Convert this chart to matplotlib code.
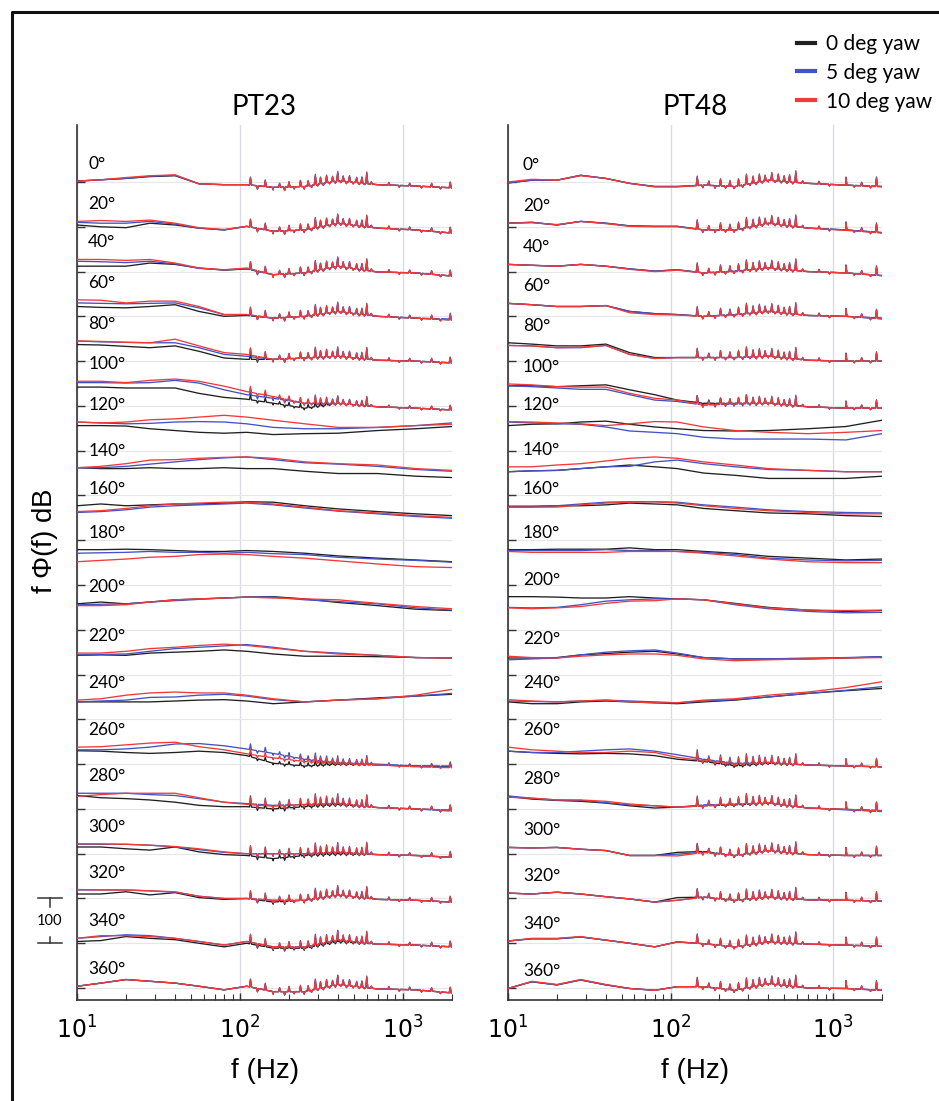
import numpy as np
import matplotlib
matplotlib.use('Agg')
import matplotlib.pyplot as plt
from matplotlib.lines import Line2D
import matplotlib.transforms as mtransforms

plt.rcParams['mathtext.fontset'] = 'custom'
plt.rcParams['mathtext.rm'] = 'Liberation Sans'
plt.rcParams['mathtext.it'] = 'Liberation Sans:italic'

FREQ = [10, 14, 20, 28, 40, 56, 80, 110, 160, 250, 400, 700, 1200, 2000]
ANGLES = list(range(0, 361, 20))
SERIES = ['0 deg yaw', '5 deg yaw', '10 deg yaw']
COLORS = ['#202020', '#4352c4', '#f03a3a']

# f*Phi(f) levels relative to each trace's baseline (traces are stacked 100 apart)
PT23_YAW0 = [
    [2, 5, 8, 12, 14, -4, -6, -6, -12, -10, 3, -6, -9, -13],
    [4, 0, -2, 8, 4, -3, -7, 1, -10, -7, 8, -3, -7, -14],
    [12, 12, 12, 19, 16, 8, 3, 6, -7, -3, 12, -1, -3, -10],
    [22, 20, 19, 22, 26, 11, 0, 2, -4, 0, 11, 0, -4, -8],
    [37, 36, 33, 30, 34, 22, 7, 4, 4, 7, 11, 2, 0, -4],
    [42, 42, 40, 40, 40, 28, 19, 15, 6, -5, 6, -2, -5, -9],
    [56, 56, 55, 49, 45, 41, 39, 41, 36, 38, 39, 45, 49, 54],
    [62, 60, 60, 62, 60, 60, 62, 60, 60, 54, 49, 49, 43, 40],
    [77, 81, 77, 79, 81, 81, 83, 86, 85, 77, 70, 64, 59, 55],
    [79, 79, 80, 79, 77, 75, 75, 77, 75, 71, 65, 60, 56, 52],
    [58, 62, 58, 62, 67, 69, 71, 73, 74, 69, 61, 54, 46, 43],
    [43, 44, 43, 48, 50, 52, 55, 52, 46, 41, 41, 40, 38, 37],
    [39, 39, 39, 39, 41, 43, 44, 41, 35, 39, 43, 48, 52, 56],
    [30, 29, 26, 24, 26, 29, 26, 19, 2, -4, 0, -2, -4, -6],
    [30, 25, 23, 20, 15, 8, 5, 5, 0, 5, 10, 3, 0, -3],
    [15, 15, 11, 8, 15, 4, -2, -4, -11, -4, 0, -2, -4, -8],
    [10, 10, 15, 8, 13, 2, -2, 0, -8, -4, 8, -2, -4, -8],
    [4, 6, 15, 11, 8, 0, -8, 0, -11, -11, 4, -2, -4, -8],
    [4, 11, 19, 15, 11, 4, -4, 4, -8, -8, 8, -2, -4, -11],
]
PT23_YAW5 = [
    [2, 5, 8, 13, 15, -4, -6, -6, -12, -10, 3, -6, -9, -13],
    [10, 8, 8, 12, 6, -3, -7, 1, -10, -7, 8, -3, -7, -14],
    [23, 22, 20, 23, 17, 7, 4, 6, -7, -3, 12, -1, -3, -10],
    [30, 29, 28, 29, 30, 19, 4, 4, -4, 0, 11, 0, -4, -6],
    [45, 43, 42, 41, 41, 30, 15, 11, 4, 7, 11, 2, 0, -4],
    [52, 52, 51, 52, 57, 51, 36, 25, 17, 6, 6, -2, -5, -9],
    [64, 62, 60, 61, 64, 65, 64, 60, 52, 49, 49, 52, 56, 62],
    [62, 62, 65, 70, 75, 80, 84, 86, 80, 73, 70, 65, 58, 54],
    [62, 64, 68, 74, 77, 79, 81, 83, 79, 72, 65, 59, 53, 49],
    [71, 72, 73, 75, 73, 73, 71, 73, 70, 68, 62, 58, 55, 51],
    [56, 57, 58, 62, 65, 68, 71, 73, 73, 67, 63, 58, 49, 44],
    [44, 45, 46, 52, 58, 61, 64, 67, 61, 52, 48, 43, 38, 37],
    [39, 41, 43, 49, 50, 54, 56, 52, 44, 39, 43, 46, 52, 58],
    [32, 32, 34, 38, 45, 46, 41, 34, 24, 11, 4, 0, -4, -4],
    [35, 35, 35, 32, 30, 23, 15, 12, 8, 10, 13, 3, 0, -5],
    [21, 21, 21, 19, 15, 9, 3, 0, 0, 0, 4, -2, -4, -8],
    [19, 19, 19, 17, 14, 5, 0, 0, -4, -4, 8, -2, -4, -8],
    [11, 15, 19, 17, 11, 4, -4, 4, -8, -8, 8, -2, -4, -8],
    [4, 11, 19, 15, 11, 4, -4, 4, -8, -8, 8, -2, -4, -11],
]
PT23_YAW10 = [
    [2, 5, 10, 14, 16, -4, -6, -6, -12, -10, 3, -6, -9, -13],
    [12, 14, 12, 15, 8, -2, -6, 1, -10, -7, 8, -3, -7, -14],
    [27, 27, 25, 27, 19, 8, 4, 8, -7, -3, 12, -1, -3, -10],
    [37, 36, 30, 34, 34, 22, 4, 4, -4, 0, 11, 0, -4, -8],
    [45, 44, 42, 41, 49, 34, 19, 15, 4, 7, 11, 2, 0, -4],
    [55, 55, 52, 57, 60, 55, 44, 32, 21, 6, 6, -2, -5, -9],
    [64, 62, 64, 69, 71, 75, 79, 75, 68, 60, 52, 52, 56, 59],
    [62, 65, 71, 79, 80, 83, 85, 86, 83, 75, 71, 68, 60, 56],
    [64, 66, 71, 77, 81, 83, 85, 85, 81, 74, 66, 61, 55, 51],
    [52, 55, 58, 62, 64, 68, 69, 68, 64, 60, 54, 47, 41, 39],
    [54, 54, 56, 62, 67, 69, 71, 73, 71, 69, 67, 59, 52, 47],
    [48, 48, 52, 58, 61, 65, 68, 65, 59, 52, 46, 43, 38, 37],
    [43, 46, 54, 59, 61, 59, 59, 54, 46, 39, 43, 46, 54, 67],
    [38, 39, 43, 47, 49, 39, 32, 23, 14, 6, 2, -2, -6, -8],
    [28, 32, 35, 35, 35, 25, 15, 10, 6, 10, 13, 3, 0, -3],
    [22, 22, 21, 19, 16, 11, 4, 0, 0, 0, 4, -2, -4, -8],
    [20, 19, 19, 17, 15, 5, 0, 0, -4, -4, 8, -2, -4, -8],
    [11, 17, 17, 15, 11, 4, -4, 4, -8, -8, 8, -2, -4, -8],
    [4, 11, 19, 15, 11, 4, -4, 4, -8, -8, 8, -2, -4, -11],
]
PT48_YAW0 = [
    [-2, 4, 4, 15, 8, -3, -10, -10, -7, -10, 4, -3, -7, -10],
    [8, 10, 4, 12, 8, 2, 1, 1, -7, -7, 8, -3, -7, -13],
    [16, 14, 12, 16, 12, 6, 1, 4, -3, 1, 8, 0, -3, -9],
    [29, 26, 22, 22, 24, 11, 6, 4, 0, 4, 11, 2, 0, -4],
    [41, 38, 34, 34, 38, 19, 8, 8, 8, 8, 11, 2, 0, 0],
    [45, 45, 43, 45, 47, 36, 25, 13, 6, 6, 6, -2, -5, -5],
    [56, 59, 60, 64, 66, 59, 53, 49, 45, 44, 45, 49, 54, 68],
    [53, 55, 56, 60, 64, 68, 64, 60, 50, 45, 38, 38, 38, 43],
    [76, 76, 77, 77, 79, 83, 81, 79, 71, 66, 61, 59, 55, 53],
    [79, 79, 80, 80, 80, 83, 79, 79, 75, 71, 64, 60, 56, 58],
    [74, 74, 73, 71, 71, 74, 71, 69, 67, 59, 50, 44, 41, 43],
    [37, 37, 38, 44, 47, 50, 52, 46, 38, 35, 35, 35, 37, 40],
    [39, 35, 35, 39, 41, 39, 37, 35, 39, 43, 50, 58, 64, 69],
    [29, 26, 24, 23, 24, 23, 19, 11, 6, -4, 2, -2, -4, -6],
    [28, 22, 19, 17, 13, 7, 2, 4, 7, 9, 13, 2, -1, -4],
    [14, 13, 14, 10, 7, -4, -4, 3, 5, -4, 7, -2, -4, -4],
    [12, 10, 14, 10, 4, -1, -8, 2, 3, -4, 3, -3, -4, -6],
    [5, 10, 10, 14, 7, 0, -8, 3, -1, -8, 3, -2, -4, -7],
    [-1, 14, 7, 18, 7, -1, -5, 3, 3, -5, 10, 0, -1, -5],
]
PT48_YAW5 = [
    [-2, 4, 4, 15, 8, -3, -10, -10, -7, -10, 4, -3, -7, -10],
    [8, 10, 4, 12, 8, 2, 1, 1, -7, -7, 8, -3, -7, -13],
    [16, 14, 12, 16, 12, 6, 1, 4, -3, 1, 8, 0, -3, -9],
    [29, 26, 22, 22, 24, 11, 6, 4, 0, 4, 11, 2, 0, -6],
    [35, 34, 30, 30, 35, 15, 6, 8, 8, 8, 11, 2, 0, 0],
    [45, 43, 40, 37, 37, 25, 13, 10, 2, 4, 6, -2, -5, -5],
    [64, 62, 60, 59, 53, 44, 41, 38, 30, 26, 26, 26, 24, 38],
    [53, 55, 56, 60, 64, 65, 75, 79, 71, 64, 58, 56, 53, 53],
    [74, 74, 77, 81, 85, 86, 86, 85, 79, 74, 68, 64, 62, 61],
    [77, 77, 77, 77, 79, 77, 77, 75, 73, 68, 60, 56, 54, 55],
    [50, 49, 50, 56, 64, 67, 69, 69, 67, 56, 47, 41, 38, 39],
    [33, 35, 37, 44, 50, 53, 55, 48, 38, 35, 35, 37, 38, 40],
    [41, 40, 39, 41, 43, 41, 39, 37, 41, 44, 50, 58, 65, 73],
    [29, 26, 26, 29, 32, 34, 29, 21, 11, 2, 4, -2, -4, -6],
    [29, 24, 20, 19, 14, 9, 7, 4, 9, 11, 13, 2, -2, -6],
    [14, 13, 14, 10, 7, -4, -4, -1, 3, -4, 7, -2, -4, -4],
    [12, 10, 14, 10, 4, -1, -8, -4, 3, -4, 3, -3, -4, -6],
    [5, 10, 10, 14, 7, 0, -8, 3, -1, -8, 3, -2, -4, -7],
    [-1, 14, 7, 18, 7, -1, -5, 3, 3, -5, 10, 0, -1, -5],
]
PT48_YAW10 = [
    [0, 6, 4, 14, 8, -3, -11, -11, -7, -10, 4, -3, -7, -11],
    [8, 9, 5, 12, 7, 1, 0, 0, -7, -8, 8, -3, -8, -14],
    [16, 14, 12, 16, 12, 5, 0, 3, -3, 0, 8, 0, -3, -9],
    [29, 26, 22, 22, 24, 8, 4, 3, 0, 3, 11, 2, 0, -5],
    [35, 34, 30, 31, 35, 15, 6, 8, 8, 8, 11, 2, 0, 0],
    [49, 47, 43, 42, 42, 28, 17, 13, 2, 6, 6, -2, -5, -5],
    [65, 64, 62, 60, 56, 60, 65, 64, 53, 45, 41, 38, 41, 45],
    [64, 64, 68, 71, 77, 83, 86, 83, 75, 68, 60, 56, 53, 53],
    [74, 74, 74, 79, 83, 85, 86, 83, 77, 71, 66, 62, 59, 59],
    [75, 73, 73, 73, 73, 75, 75, 75, 71, 65, 58, 52, 50, 50],
    [49, 47, 49, 52, 59, 64, 65, 69, 67, 58, 49, 44, 43, 44],
    [41, 38, 37, 41, 44, 46, 46, 43, 35, 31, 33, 35, 37, 38],
    [44, 41, 39, 41, 43, 39, 37, 37, 43, 46, 54, 61, 71, 84],
    [38, 32, 29, 26, 26, 29, 26, 15, 8, 0, 4, -2, -4, -6],
    [26, 24, 20, 20, 17, 11, 7, 4, 7, 11, 14, 2, -1, -4],
    [14, 13, 14, 10, 7, -4, -4, -5, 3, -4, 7, -2, -4, -4],
    [12, 10, 14, 10, 4, -1, -8, -4, 3, -4, 3, -3, -4, -6],
    [5, 11, 11, 15, 7, 0, -8, 3, -1, -8, 3, -2, -4, -7],
    [-1, 15, 8, 19, 8, -1, -5, 3, 3, -5, 10, 0, -1, -5],
]

# tonal peaks and dips (Hz, height)
PT23_SPIKE_F = [116, 128, 143, 160, 175, 188, 200, 215, 235, 248, 262, 275, 290, 300, 312, 325, 340, 355,
                370, 385, 398, 415, 430, 450, 470, 495, 520, 540, 560, 580, 600, 640, 820, 950, 1100, 1300,
                1500, 1700, 1950]
PT23_SPIKE_H = [18, -8, 15, -6, 9, -8, 12, -5, 14, -6, 12, -5, 23, -4, 15, -5, 17, -4,
                12, -5, 21, -4, 12, -5, 14, -4, 12, -4, 14, -3, 26, 5, 6, -4, 6, -4,
                8, -4, 13]
PT48_SPIKE_F = [146, 158, 172, 188, 203, 218, 232, 246, 262, 278, 293, 308, 322, 337, 352, 367, 382, 400,
                420, 440, 460, 480, 500, 520, 540, 565, 590, 650, 820, 950, 1200, 1350, 1500, 1700, 1850]
PT48_SPIKE_H = [21, -6, 10, -6, 16, -5, 13, -5, 16, -5, 23, -4, 16, -5, 18, -4, 13, -4,
                18, -4, 16, -4, 13, -4, 16, -4, 26, 5, 6, -4, 18, -4, 8, -4, 21]
# how strongly each angle shows the tonal peaks
PT23_TONAL = [1, 1, 1, 1, 1, 0.8, 0, 0, 0, 0, 0, 0, 0, 0.7, 1, 1, 1, 1, 1]
PT48_TONAL = [1, 1, 1, 1, 1, 0.9, 0, 0, 0, 0, 0, 0, 0, 0.9, 1, 1, 1, 1, 1]
# relative spike strength of the three yaw cases
SERIES_SPIKE = [0.8, 1.0, 0.9]

SPACING = 100
W, H = 939, 1101


def trace(vals, spike_f, spike_h, w):
    lf = np.log10(FREQ)
    pts = list(zip(FREQ, vals))
    if w > 0:
        for fs, h in zip(spike_f, spike_h):
            for f, add in ((fs * 0.986, 0), (fs, h * w), (fs * 1.014, 0)):
                pts.append((f, np.interp(np.log10(f), lf, vals) + add))
    pts.sort()
    f, v = zip(*pts)
    return np.array(f), np.array(v)


def panel(ax, title, data, spike_f, spike_h, tonal, label_x):
    tr = mtransforms.blended_transform_factory(ax.transAxes, ax.transData)
    for k, ang in enumerate(ANGLES):
        base = -SPACING * k
        for s in range(3):
            f, v = trace(data[s][k], spike_f, spike_h, tonal[k] * SERIES_SPIKE[s])
            ax.plot(f, v + base, color=COLORS[s], lw=0.95, zorder=3 + s)
        top = max(data[s][k][0] for s in range(3))
        ax.text(label_x, base + top + 38, '%d°' % ang, transform=tr,
                fontsize=12.5, family='Lato', va='center', ha='left')
    ax.set_xscale('log')
    ax.set_xlim(10, 2000)
    ax.set_ylim(-1826.7, 127.3)
    ax.set_yticks([-SPACING * k for k in range(len(ANGLES))])
    ax.set_yticklabels([])
    ax.tick_params(axis='y', direction='in', length=6, width=1, color='#333333')
    ax.tick_params(axis='x', which='major', direction='in', length=5, width=1, pad=12, labelsize=17, color='#333333')
    ax.tick_params(axis='x', which='minor', direction='in', length=4, width=0.8, color='#333333')
    ax.grid(True, axis='y', color='#e6e6e6', lw=0.8, zorder=0)
    ax.grid(True, axis='x', which='major', color='#d9dce6', lw=1.0, zorder=0)
    for sp in ('top', 'right'):
        ax.spines[sp].set_visible(False)
    for sp in ('left', 'bottom'):
        ax.spines[sp].set_color('#333333')
        ax.spines[sp].set_linewidth(1.2)
    ax.set_title(title, fontsize=20, family='Lato', pad=7)


fig = plt.figure(figsize=(W / 100, H / 100), dpi=100)
ax1 = fig.add_axes([77 / W, 1 - 1000 / H, 375 / W, 875 / H])
ax2 = fig.add_axes([508 / W, 1 - 1000 / H, 374 / W, 875 / H])

panel(ax1, 'PT23', [PT23_YAW0, PT23_YAW5, PT23_YAW10], PT23_SPIKE_F, PT23_SPIKE_H, PT23_TONAL, 0.03)
panel(ax2, 'PT48', [PT48_YAW0, PT48_YAW5, PT48_YAW10], PT48_SPIKE_F, PT48_SPIKE_H, PT48_TONAL, 0.04)

# axis labels
fig.text(265 / W, 1 - 1071 / H, 'f (Hz)', fontsize=20, family='Liberation Sans', ha='center', va='center')
fig.text(695 / W, 1 - 1071 / H, 'f (Hz)', fontsize=20, family='Liberation Sans', ha='center', va='center')
fig.text(45 / W, 1 - 541 / H, 'f $\\Phi$(f) dB', fontsize=20, family='Liberation Sans', rotation=90,
         ha='center', va='center')

# 100 scale bar next to the PT23 axis
tr = mtransforms.blended_transform_factory(ax1.transAxes, ax1.transData)
y0, y1 = -SPACING * 16, -SPACING * 17
xb = -0.072
for yy in (y0, y1):
    ax1.add_line(Line2D([-0.104, -0.040], [yy, yy], transform=tr, color='#333333', lw=1.1, clip_on=False))
ax1.add_line(Line2D([xb, xb], [y0, y0 - 20], transform=tr, color='#333333', lw=1.1, clip_on=False))
ax1.add_line(Line2D([xb, xb], [y1 + 15, y1], transform=tr, color='#333333', lw=1.1, clip_on=False))
ax1.text(xb, (y0 + y1) / 2, '100', transform=tr, fontsize=10.5, family='Lato', ha='center', va='center',
         clip_on=False)

# legend
handles = [Line2D([], [], color=c, lw=3) for c in COLORS]
fig.legend(handles, SERIES, loc='upper left', bbox_to_anchor=(797 / W, 1 - 34 / H), frameon=False,
           prop={'family': 'Lato', 'size': 15}, handlelength=0.87, handletextpad=0.5, labelspacing=0.42,
           borderaxespad=0, borderpad=0)

# frame around the figure (right and bottom edges fall outside the picture)
fig.add_artist(Line2D([11.5 / W, 11.5 / W, 1.0], [0.0, 1 - 11.5 / H, 1 - 11.5 / H], transform=fig.transFigure,
                      color='#111111', lw=2.2))

fig.savefig('out.png', dpi=100)
